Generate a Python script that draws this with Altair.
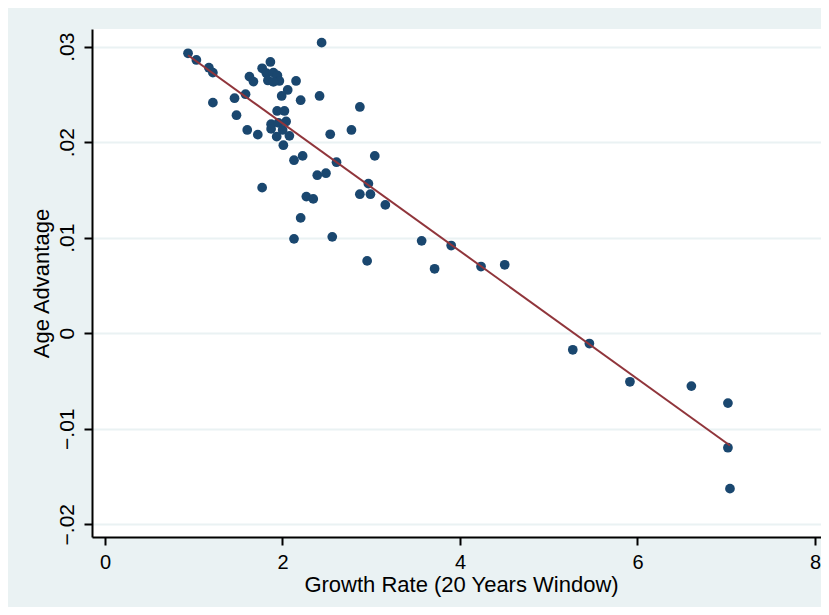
import altair as alt
import pandas as pd

# Growth rate (20 years window) for each observation
growth = [
    0.936, 1.030, 1.171, 1.216, 1.216, 1.584, 1.460, 1.482, 1.603, 1.722,
    1.771, 1.628, 1.673, 1.771, 1.864, 1.819, 1.898, 1.943, 1.965, 1.836,
    1.898, 2.153, 2.059, 1.991, 2.205, 2.418, 2.441, 2.872, 1.940, 2.022,
    2.041, 1.872, 1.954, 1.872, 2.002, 2.078, 1.935, 2.010, 2.538, 2.777,
    2.227, 2.130, 3.040, 2.609, 2.392, 2.490, 2.968, 2.872, 2.991, 3.159,
    2.269, 2.347, 2.205, 2.130, 2.561, 2.954, 3.568, 3.714, 3.901, 4.237,
    4.504, 5.271, 5.458, 5.915, 6.607, 7.019, 7.019, 7.042,
]

# Age advantage for each observation
advantage = [
    0.02931, 0.02861, 0.02780, 0.02728, 0.02414, 0.02502, 0.02460, 0.02282, 0.02128, 0.02079,
    0.01524, 0.02686, 0.02634, 0.02774, 0.02840, 0.02722, 0.02728, 0.02699, 0.02641, 0.02646,
    0.02631, 0.02641, 0.02547, 0.02484, 0.02439, 0.02484, 0.03042, 0.02369, 0.02327, 0.02327,
    0.02217, 0.02188, 0.02202, 0.02139, 0.02128, 0.02066, 0.02058, 0.01968, 0.02083, 0.02128,
    0.01856, 0.01811, 0.01856, 0.01790, 0.01654, 0.01675, 0.01566, 0.01455, 0.01455, 0.01343,
    0.01430, 0.01406, 0.01207, 0.00988, 0.01009, 0.00757, 0.00967, 0.00674, 0.00918, 0.00698,
    0.00716, -0.00174, -0.00108, -0.00509, -0.00554, -0.00732, -0.01199, -0.01628,
]

x_ticks = [0, 2, 4, 6, 8]
y_ticks = [-0.02, -0.01, 0, 0.01, 0.02, 0.03]

df = pd.DataFrame({"growth": growth, "advantage": advantage})

FONT = "Liberation Sans"
NAVY = "#1A476F"
MAROON = "#90353B"
BG = "#EAF2F3"

W, H = 729, 508

x_enc = alt.X(
    "growth:Q",
    scale=alt.Scale(domain=[-0.146, 8.0676], nice=False, zero=False),
    axis=alt.Axis(
        values=x_ticks,
        format="d",
        title="Growth Rate (20 Years Window)",
        grid=False,
        labelFlush=False,
        labelFontSize=20,
        labelPadding=7,
        labelBaseline="top",
        titleX=(830 - 92) / 2,
        titleY=54,
        titleAlign="center",
        titleBaseline="alphabetic",
    ),
)

y_enc = alt.Y(
    "advantage:Q",
    scale=alt.Scale(domain=[-0.02134, 0.03185], nice=False, zero=False),
    axis=alt.Axis(
        values=y_ticks,
        labelExpr="abs(datum.value) < 1e-9 ? '0' : replace(format(datum.value, '.2f'), '0.', '.')",
        title="Age Advantage",
        grid=True,
        gridColor=BG,
        gridWidth=2,
        labelAngle=270,
        labelAlign="center",
        labelBaseline="bottom",
        labelPadding=7,
        labelFlush=False,
        titleAngle=270,
        titleX=-44,
        titleY=H / 2,
        titleAlign="center",
        titleBaseline="alphabetic",
    ),
)

points = alt.Chart(df).mark_circle(size=95, color=NAVY, opacity=1).encode(
    x=x_enc, y=y_enc
)

fit = (
    alt.Chart(df)
    .transform_regression("growth", "advantage")
    .mark_line(color=MAROON, strokeWidth=2)
    .encode(x=x_enc, y=y_enc)
)

chart = (
    alt.layer(points, fit)
    .properties(
        width=W,
        height=H,
        autosize="none",
        padding={"left": 84, "top": 21, "right": 0, "bottom": 70},
    )
    .configure(background=BG)
    .configure_view(fill="white", strokeWidth=0)
    .configure_axis(
        labelFont=FONT,
        labelFontSize=21,
        labelColor="black",
        titleFont=FONT,
        titleFontSize=22,
        titleFontWeight="normal",
        titleColor="black",
        domainColor="black",
        domainWidth=2,
        tickColor="black",
        tickWidth=2,
        tickSize=8,
        labelOverlap=False,
    )
)

chart.save("out.html", embed_options={"renderer": "svg", "actions": False})
